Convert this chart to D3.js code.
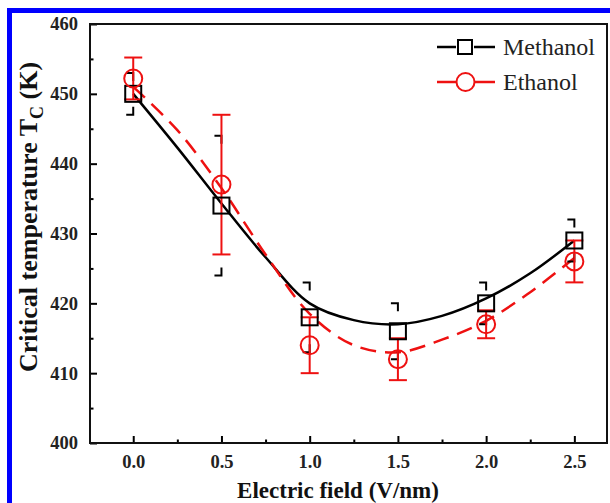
<!DOCTYPE html>
<html>
<head>
<meta charset="utf-8">
<script src="https://cdn.jsdelivr.net/npm/d3@7"></script>
<style>
  body { margin: 0; background: #fff; }
  svg { display: block; }
  svg text { font-family: "Liberation Serif", "Times New Roman", Tinos, "DejaVu Serif", serif; }
  .tick text { font-weight: bold; font-size: 18.5px; fill: #222; }
</style>
</head>
<body>
<svg id="chart" width="610" height="503"></svg>
<script>
// field values (V/nm)
const fields = [0.0, 0.5, 1.0, 1.5, 2.0, 2.5];
// critical temperature, methanol
const methanol = [450, 434, 418, 416, 420, 429];
const methanolErr = [3, 10, 5, 4, 3, 3];
// critical temperature, ethanol
const ethanol = [452.2, 437, 414, 412, 417, 426];
const ethanolErr = [3, 10, 4, 3, 2, 3];

// fitted curves, every 0.25 V/nm
const fitFields = [0, 0.25, 0.5, 0.75, 1.0, 1.25, 1.5, 1.75, 2.0, 2.25, 2.5];
const methanolFit = [450, 442.3, 434.3, 426.6, 420, 417.6, 417, 418.2, 420.7, 424.3, 429];
const ethanolFit = [451, 444.8, 436.5, 427, 418.5, 414, 413, 414.8, 417.5, 421.6, 426.5];

const yTicks = [400, 410, 420, 430, 440, 450, 460];
const xTicks = [0.0, 0.5, 1.0, 1.5, 2.0, 2.5];

let svg = d3.select('#chart');

// blue frame on top and left
svg.append('path')
   .attr('d', 'M9.5,503 L9.5,10.5 L610,10.5')
   .attr('fill', 'none')
   .attr('stroke', '#0000ff')
   .attr('stroke-width', 5);

let plotLeft = 90, plotRight = 607, plotTop = 24, plotBottom = 443;

let xscale = d3.scaleLinear()
               .domain([-0.245, 2.685])
               .range([plotLeft, plotRight]);
let yscale = d3.scaleLinear()
               .domain([400, 460])
               .range([plotBottom, plotTop]);

// minor ticks
let minorX = d3.range(0.25, 2.6, 0.5);
let minorY = d3.range(405, 460, 10);

svg.append('g')
   .attr('transform', `translate(0,${plotBottom})`)
   .call(d3.axisBottom(xscale).tickValues(minorX).tickSize(-3.5).tickFormat(''))
   .call(g => g.select('.domain').remove())
   .selectAll('line').attr('stroke-width', 2);
svg.append('g')
   .attr('transform', `translate(${plotLeft},0)`)
   .call(d3.axisLeft(yscale).tickValues(minorY).tickSize(-3.5).tickFormat(''))
   .call(g => g.select('.domain').remove())
   .selectAll('line').attr('stroke-width', 2);

// major ticks
let xaxis = svg.append('g')
   .attr('transform', `translate(0,${plotBottom})`)
   .call(d3.axisBottom(xscale).tickValues(xTicks).tickSize(-7).tickPadding(12).tickFormat(d3.format('.1f')));
xaxis.select('.domain').remove();
xaxis.selectAll('line').attr('stroke-width', 2);
xaxis.attr('font-family', null);

let yaxis = svg.append('g')
   .attr('transform', `translate(${plotLeft},0)`)
   .call(d3.axisLeft(yscale).tickValues(yTicks).tickSize(-7).tickPadding(12));
yaxis.select('.domain').remove();
yaxis.selectAll('line').attr('stroke-width', 2);
yaxis.attr('font-family', null);

// frame
svg.append('rect')
   .attr('x', plotLeft).attr('y', plotTop)
   .attr('width', plotRight - plotLeft).attr('height', plotBottom - plotTop)
   .attr('fill', 'none')
   .attr('stroke', '#111')
   .attr('stroke-width', 2);

// curves
let line = d3.line()
             .x((d, i) => xscale(fitFields[i]))
             .y(d => yscale(d))
             .curve(d3.curveCatmullRom);

svg.append('path')
   .datum(methanolFit)
   .attr('d', line)
   .attr('fill', 'none')
   .attr('stroke', '#000')
   .attr('stroke-width', 2.5);

svg.append('path')
   .datum(ethanolFit)
   .attr('d', line)
   .attr('fill', 'none')
   .attr('stroke', '#ee1111')
   .attr('stroke-width', 2.5)
   .attr('stroke-dasharray', '16,9');

// methanol error bars: half caps with short stems
let mErr = svg.append('g').attr('stroke', '#000').attr('stroke-width', 2).attr('fill', 'none');
methanol.forEach((v, i) => {
  let x = xscale(fields[i]);
  let yHi = yscale(v + methanolErr[i]);
  let yLo = yscale(v - methanolErr[i]);
  mErr.append('path').attr('d', `M${x - 7},${yHi} L${x},${yHi} L${x},${yHi + 8}`);
  mErr.append('path').attr('d', `M${x - 7},${yLo} L${x},${yLo} L${x},${yLo - 8}`);
});

// ethanol error bars
let eErr = svg.append('g').attr('stroke', '#ee1111').attr('stroke-width', 2).attr('fill', 'none');
ethanol.forEach((v, i) => {
  let x = xscale(fields[i]);
  let yHi = yscale(v + ethanolErr[i]);
  let yLo = yscale(v - ethanolErr[i]);
  eErr.append('path').attr('d', `M${x},${yHi} L${x},${yLo}`);
  eErr.append('path').attr('d', `M${x - 9},${yHi} L${x + 9},${yHi}`);
  eErr.append('path').attr('d', `M${x - 9},${yLo} L${x + 9},${yLo}`);
});

// markers
svg.selectAll('.sq')
   .data(methanol)
   .enter()
   .append('rect')
   .attr('class', 'sq')
   .attr('x', (d, i) => xscale(fields[i]) - 8)
   .attr('y', d => yscale(d) - 8)
   .attr('width', 16)
   .attr('height', 16)
   .attr('fill', 'none')
   .attr('stroke', '#000')
   .attr('stroke-width', 2);

svg.selectAll('.circ')
   .data(ethanol)
   .enter()
   .append('circle')
   .attr('class', 'circ')
   .attr('cx', (d, i) => xscale(fields[i]))
   .attr('cy', d => yscale(d))
   .attr('r', 9)
   .attr('fill', 'none')
   .attr('stroke', '#ee1111')
   .attr('stroke-width', 2);

// legend
let legend = svg.append('g');
let names = ['Methanol', 'Ethanol'];
let colors = ['#000', '#ee1111'];
names.forEach((n, i) => {
  let y = 47 + i * 35;
  legend.append('line').attr('x1', 437).attr('x2', 456).attr('y1', y).attr('y2', y)
        .attr('stroke', colors[i]).attr('stroke-width', 2.5);
  legend.append('line').attr('x1', 474).attr('x2', 495).attr('y1', y).attr('y2', y)
        .attr('stroke', colors[i]).attr('stroke-width', 2.5);
  if (i == 0) {
    legend.append('rect').attr('x', 458).attr('y', y - 7).attr('width', 14).attr('height', 14)
          .attr('fill', 'none').attr('stroke', colors[i]).attr('stroke-width', 2);
  } else {
    legend.append('circle').attr('cx', 465.5).attr('cy', y).attr('r', 9)
          .attr('fill', 'none').attr('stroke', colors[i]).attr('stroke-width', 2);
  }
  legend.append('text')
        .attr('x', 503).attr('y', y + 8)
        .attr('font-size', 24)
        .attr('fill', '#222')
        .text(n);
});

// axis titles
svg.append('text')
   .attr('x', 338)
   .attr('y', 498)
   .attr('text-anchor', 'middle')
   .attr('font-weight', 'bold')
   .attr('font-size', 23)
   .attr('fill', '#111')
   .text('Electric field (V/nm)');

let ytitle = svg.append('text')
   .attr('transform', 'translate(37,217) rotate(-90)')
   .attr('text-anchor', 'middle')
   .attr('font-weight', 'bold')
   .attr('font-size', 26)
   .attr('fill', '#111');
ytitle.append('tspan').text('Critical temperature T');
ytitle.append('tspan').attr('font-size', 18).attr('dy', 6).text('C');
ytitle.append('tspan').attr('dy', -6).text(' (K)');
</script>
</body>
</html>
